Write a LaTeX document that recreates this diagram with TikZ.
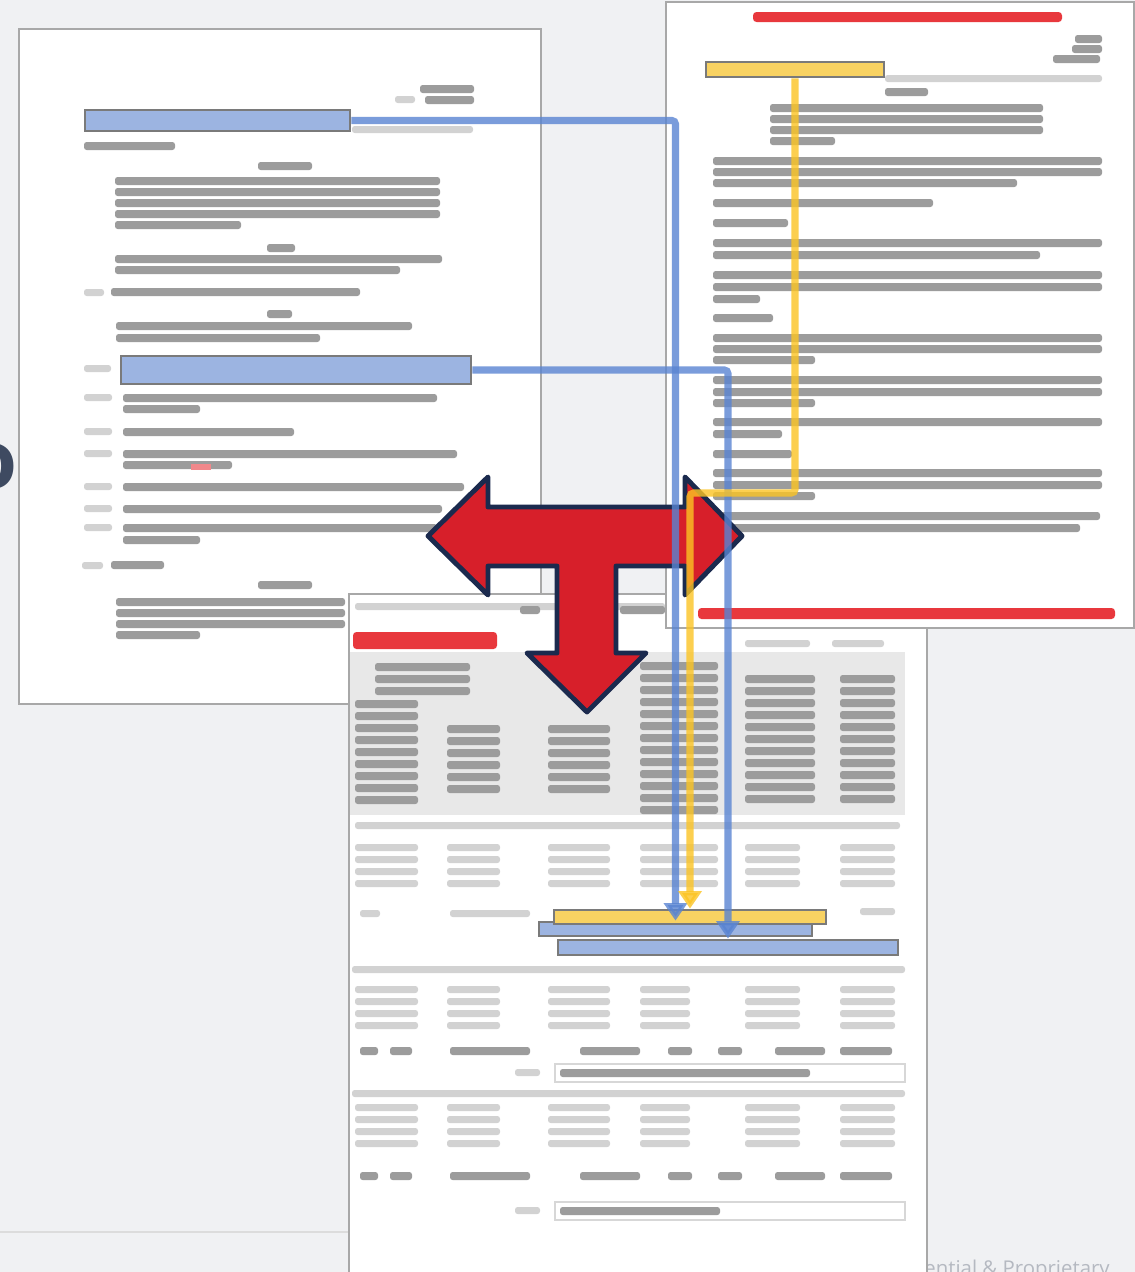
\documentclass[tikz,border=0pt]{standalone}
\usepackage{fontspec}
\setsansfont{Open Sans}
\usepackage{tikz}
\usetikzlibrary{arrows.meta,fit}

\definecolor{slide}{HTML}{F0F1F3}
\definecolor{pagegray}{HTML}{A8A8A8}
\definecolor{inkgray}{HTML}{9C9C9C}
\definecolor{inkred}{HTML}{E8383D}
\definecolor{hlblue}{HTML}{9CB4E1}
\definecolor{hlyellow}{HTML}{F8D262}
\definecolor{hledge}{HTML}{7A7A7A}
\definecolor{lineblue}{HTML}{5984D2}
\definecolor{lineyellow}{HTML}{FCC423}
\definecolor{arrowred}{HTML}{D71F2A}
\definecolor{arrownavy}{HTML}{1B2A4E}
\definecolor{tablegray}{HTML}{E8E8E8}
\definecolor{footgray}{HTML}{B5B9C1}
\definecolor{titleslate}{HTML}{3E4A61}

\newcommand{\inkline}[3]{\fill[ink] (#1,#2) rectangle (#3,#2+8);}
\newcommand{\faintline}[3]{\fill[faintink] (#1,#2) rectangle (#3,#2+7);}

\begin{document}
\begin{tikzpicture}[x=0.02cm,y=-0.02cm,
    page/.style={fill=white,draw=pagegray,line width=1.1pt},
    ink/.style={fill=inkgray,rounded corners=1.5pt},
    faintink/.style={fill=inkgray!45,rounded corners=1.5pt},
    redink/.style={fill=inkred,rounded corners=2pt},
    hlbar/.style={draw=hledge,line width=1.6pt,fill=#1,inner sep=0pt},
    link/.style={draw=#1,line width=4pt,opacity=0.8,rounded corners=2pt,
      -{Triangle[width=13pt,length=10pt]}},
    bigarrow/.style={fill=arrowred,draw=arrownavy,line width=2.8pt,line join=round}]
  \useasboundingbox (0,0) rectangle (1135,1272);
  \fill[slide] (0,0) rectangle (1135,1272);
  \draw[pagegray!40,line width=0.6pt] (0,1232) -- (349,1232);

  \node[font=\sffamily\fontsize{11.6}{13}\selectfont,text=footgray,anchor=north east,inner sep=0pt] (footer) at (1110,1260) {Confidential \& Proprietary};
  \node[font=\sffamily\bfseries\fontsize{46}{50}\selectfont,text=titleslate,anchor=east,inner sep=0pt] (titleglyph) at (18,466) {o};

  % left page
  \draw[page] (19,29) rectangle (541,704);
  \faintline{395}{96}{415}
  \inkline{420}{85}{474}
  \inkline{425}{96}{474}
  \faintline{352}{126}{473}
  \inkline{84}{142}{175}
  \inkline{258}{162}{312}
  \foreach \y in {177,188,199,210} {\inkline{115}{\y}{440}}
  \inkline{115}{221}{241}
  \inkline{267}{244}{295}
  \inkline{115}{255}{442}
  \inkline{115}{266}{400}
  \faintline{84}{289}{104}
  \inkline{111}{288}{360}
  \inkline{267}{310}{292}
  \inkline{116}{322}{412}
  \inkline{116}{334}{320}
  \faintline{84}{365}{111}
  \foreach \y/\w in {394/437,428/294,450/457,483/464,505/442,524/437} {
    \faintline{84}{\y}{112}
    \inkline{123}{\y}{\w}
  }
  \inkline{123}{405}{200}
  \inkline{123}{461}{232}
  \fill[inkred!60] (191,464) rectangle (211,470);
  \inkline{123}{536}{200}
  \faintline{82}{562}{103}
  \inkline{111}{561}{164}
  \inkline{258}{581}{312}
  \foreach \y in {598,609,620} {\inkline{116}{\y}{345}}
  \inkline{116}{631}{200}
  \node[hlbar=hlblue,fit={(85,110) (350,131)}] (srcA) {};
  \node[hlbar=hlblue,fit={(121,356) (471,384)}] (srcB) {};

  % bottom page
  \draw[page] (349,594) rectangle (927,1290);
  \faintline{355}{603}{665}
  \inkline{520}{606}{540}
  \inkline{620}{606}{665}
  \fill[redink] (353,632) rectangle (497,649);
  \faintline{745}{640}{810}
  \faintline{832}{640}{884}
  \fill[tablegray] (350,652) rectangle (905,815);
  \foreach \y in {663,675,687} {\inkline{375}{\y}{470}}
  \foreach \y in {700,712,...,796} {\inkline{355}{\y}{418}}
  \foreach \y in {725,737,...,785} {
    \inkline{447}{\y}{500}
    \inkline{548}{\y}{610}
  }
  \foreach \y in {662,674,...,806} {\inkline{640}{\y}{718}}
  \foreach \y in {675,687,...,806} {
    \inkline{745}{\y}{815}
    \inkline{840}{\y}{895}
  }
  \faintline{355}{822}{900}
  \foreach \y in {844,856,868,880} {
    \foreach \xa/\xb in {355/418,447/500,548/610,640/718,745/800,840/895}
      {\faintline{\xa}{\y}{\xb}}
  }
  \faintline{360}{910}{380}
  \faintline{450}{910}{530}
  \faintline{860}{908}{895}
  \faintline{352}{966}{905}
  \foreach \y in {986,998,1010,1022} {
    \foreach \xa/\xb in {355/418,447/500,548/610,640/690,745/800,840/895}
      {\faintline{\xa}{\y}{\xb}}
  }
  \faintline{352}{1090}{905}
  \foreach \y in {1104,1116,1128,1140} {
    \foreach \xa/\xb in {355/418,447/500,548/610,640/690,745/800,840/895}
      {\faintline{\xa}{\y}{\xb}}
  }
  \foreach \y in {1047,1172} {
    \foreach \xa/\xb in {360/378,390/412,450/530,580/640,668/692,718/742,775/825,840/892}
      {\inkline{\xa}{\y}{\xb}}
  }
  \draw[inkgray!40,line width=0.8pt] (555,1064) rectangle (905,1082);
  \faintline{515}{1069}{540}
  \inkline{560}{1069}{810}
  \draw[inkgray!40,line width=0.8pt] (555,1202) rectangle (905,1220);
  \faintline{515}{1207}{540}
  \inkline{560}{1207}{720}
  \node[hlbar=hlblue,fit={(539,922) (812,936)}] (tgtA) {};
  \node[hlbar=hlyellow,fit={(554,910) (826,924)}] (tgtC) {};
  \node[hlbar=hlblue,fit={(558,940) (898,955)}] (tgtB) {};

  % right page
  \draw[page] (666,2) rectangle (1134,628);
  \fill[redink] (753,12) rectangle (1062,22);
  \inkline{1075}{35}{1102}
  \inkline{1072}{45}{1102}
  \inkline{1053}{55}{1100}
  \faintline{885}{75}{1102}
  \inkline{885}{88}{928}
  \foreach \y in {104,115,126} {\inkline{770}{\y}{1043}}
  \inkline{770}{137}{835}
  \inkline{713}{157}{1102}
  \inkline{713}{168}{1102}
  \inkline{713}{179}{1017}
  \inkline{713}{199}{933}
  \inkline{713}{219}{788}
  \inkline{713}{239}{1102}
  \inkline{713}{251}{1040}
  \inkline{713}{271}{1102}
  \inkline{713}{283}{1102}
  \inkline{713}{295}{760}
  \inkline{713}{314}{773}
  \inkline{713}{334}{1102}
  \inkline{713}{345}{1102}
  \inkline{713}{356}{815}
  \inkline{713}{376}{1102}
  \inkline{713}{388}{1102}
  \inkline{713}{399}{815}
  \inkline{713}{418}{1102}
  \inkline{713}{430}{782}
  \inkline{713}{450}{792}
  \inkline{713}{469}{1102}
  \inkline{713}{481}{1102}
  \inkline{713}{492}{815}
  \inkline{713}{512}{1100}
  \inkline{713}{524}{1080}
  \fill[redink] (698,608) rectangle (1115,619);
  \node[hlbar=hlyellow,fit={(706,62) (884,77)}] (srcC) {};

  % T arrow
  \draw[bigarrow] (428,536) -- (488,477) -- (488,507) -- (685,507) -- (685,477)
    -- (742,536) -- (685,595) -- (685,566) -- (616,566) -- (616,653) -- (646,653)
    -- (587,712) -- (527,653) -- (557,653) -- (557,566) -- (488,566) -- (488,595) -- cycle;

  % links
  \coordinate (bendC) at (tgtC.north |- 0,493);
  \draw[link=lineblue] (srcA.east) -| (tgtA.north);
  \draw[link=lineblue] (srcB.east) -| (tgtB.north);
  \draw[link=lineyellow] (srcC.south) |- (bendC) -- (tgtC.north);
\end{tikzpicture}
\end{document}
